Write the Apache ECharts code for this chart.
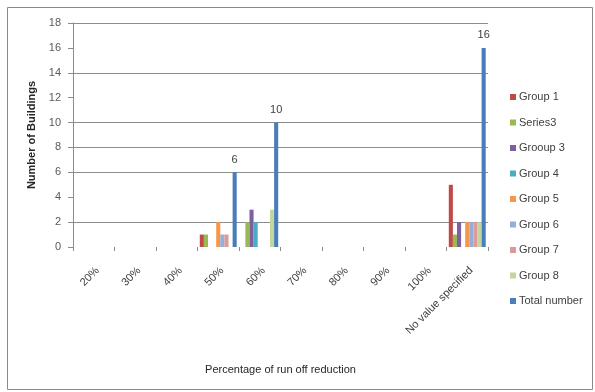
<!DOCTYPE html>
<html>
<head>
<meta charset="utf-8">
<script src="https://cdn.jsdelivr.net/npm/echarts@6/dist/echarts.min.js"></script>
<style>
  html, body { margin: 0; padding: 0; background: #fff; }
  #chart { width: 595px; height: 392px; }
</style>
</head>
<body>
<div id="chart"></div>
<script>
// Category axis: percentage of run-off reduction
const categories = ['20%', '30%', '40%', '50%', '60%', '70%', '80%', '90%', '100%', 'No value specified'];

// Number of buildings per group and category
const group1    = [0, 0, 0, 1, 0, 0, 0, 0, 0, 5];
const series3   = [0, 0, 0, 1, 2, 0, 0, 0, 0, 1];
const grooup3   = [0, 0, 0, 0, 3, 0, 0, 0, 0, 2];
const group4    = [0, 0, 0, 0, 2, 0, 0, 0, 0, 0];
const group5    = [0, 0, 0, 2, 0, 0, 0, 0, 0, 2];
const group6    = [0, 0, 0, 1, 0, 0, 0, 0, 0, 2];
const group7    = [0, 0, 0, 1, 0, 0, 0, 0, 0, 2];
const group8    = [0, 0, 0, 0, 3, 0, 0, 0, 0, 2];
const totalNumber = [0, 0, 0, 6, 10, 0, 0, 0, 0, 16];

const seriesNames = ['Group 1', 'Series3', 'Grooup 3', 'Group 4', 'Group 5', 'Group 6', 'Group 7', 'Group 8', 'Total number'];
const seriesData = [group1, series3, grooup3, group4, group5, group6, group7, group8, totalNumber];
const seriesColors = ['#BE4B48', '#98B954', '#7D60A0', '#4AACC5', '#F79646', '#93AEDA', '#DE9A99', '#C3D69B', '#4A7EBB'];

// Horizontal gridlines that are drawn
const gridValues = [2, 6, 8, 10, 14, 18];

const FONT = "'Liberation Sans', 'Open Sans', sans-serif";

const series = seriesNames.map((name, i) => {
  const s = {
    name: name,
    type: 'bar',
    data: seriesData[i],
    barGap: '0%',
    barCategoryGap: '11%',
    itemStyle: { color: seriesColors[i] },
    emphasis: { disabled: true },
    animation: false
  };
  if (i === 0) {
    s.markLine = {
      silent: true,
      symbol: ['none', 'none'],
      label: { show: false },
      lineStyle: { type: 'solid', color: '#8c8c8c', width: 1 },
      emphasis: { disabled: true },
      animation: false,
      z: 1,
      data: gridValues.map(v => ({ yAxis: v }))
    };
    s.z = 2;
  }
  if (name === 'Total number') {
    s.z = 3;
    s.label = {
      show: true,
      position: 'top',
      distance: 7,
      fontFamily: FONT,
      fontSize: 11,
      color: '#404040',
      formatter: p => (p.value > 0 ? String(p.value) : '')
    };
  }
  return s;
});

const chart = echarts.init(document.getElementById('chart'), null, { renderer: 'canvas' });
chart.setOption({
  animation: false,
  textStyle: { fontFamily: FONT },
  graphic: [{
    type: 'rect',
    shape: { x: 7.5, y: 7.5, width: 585, height: 382 },
    style: { fill: 'none', stroke: '#8a8a8a', lineWidth: 1 },
    silent: true,
    z: -1
  }],
  grid: { left: 73, right: 107, top: 23, bottom: 145, containLabel: false },
  legend: {
    orient: 'vertical',
    left: 505,
    top: 85,
    itemWidth: 6,
    itemHeight: 6,
    itemGap: 11.5,
    icon: 'rect',
    textStyle: { fontFamily: FONT, fontSize: 11, color: '#404040', lineHeight: 14, padding: [0, 0, 0, -2] },
    data: seriesNames
  },
  xAxis: {
    type: 'category',
    data: categories,
    boundaryGap: true,
    name: 'Percentage of run off reduction',
    nameLocation: 'middle',
    nameGap: 117,
    nameTextStyle: { fontFamily: FONT, fontSize: 11, color: '#262626' },
    axisLine: { show: false },
    axisTick: { show: true, length: 4, lineStyle: { color: '#8c8c8c' } },
    axisLabel: {
      rotate: 45,
      interval: 0,
      margin: 18,
      verticalAlign: 'top',
      fontFamily: FONT,
      fontSize: 11,
      color: '#404040'
    },
    splitLine: { show: false }
  },
  yAxis: {
    type: 'value',
    min: 0,
    max: 18,
    interval: 2,
    name: 'Number of Buildings',
    nameLocation: 'middle',
    nameRotate: 90,
    nameGap: 34,
    nameTextStyle: { fontFamily: FONT, fontSize: 11, fontWeight: 'bold', color: '#262626' },
    axisLine: { show: true, lineStyle: { color: '#8c8c8c' } },
    axisTick: { show: true, length: 5, inside: false, lineStyle: { color: '#8c8c8c' } },
    axisLabel: { margin: 12, fontFamily: FONT, fontSize: 11, color: '#595959' },
    splitLine: { show: false }
  },
  series: series
});
</script>
</body>
</html>
